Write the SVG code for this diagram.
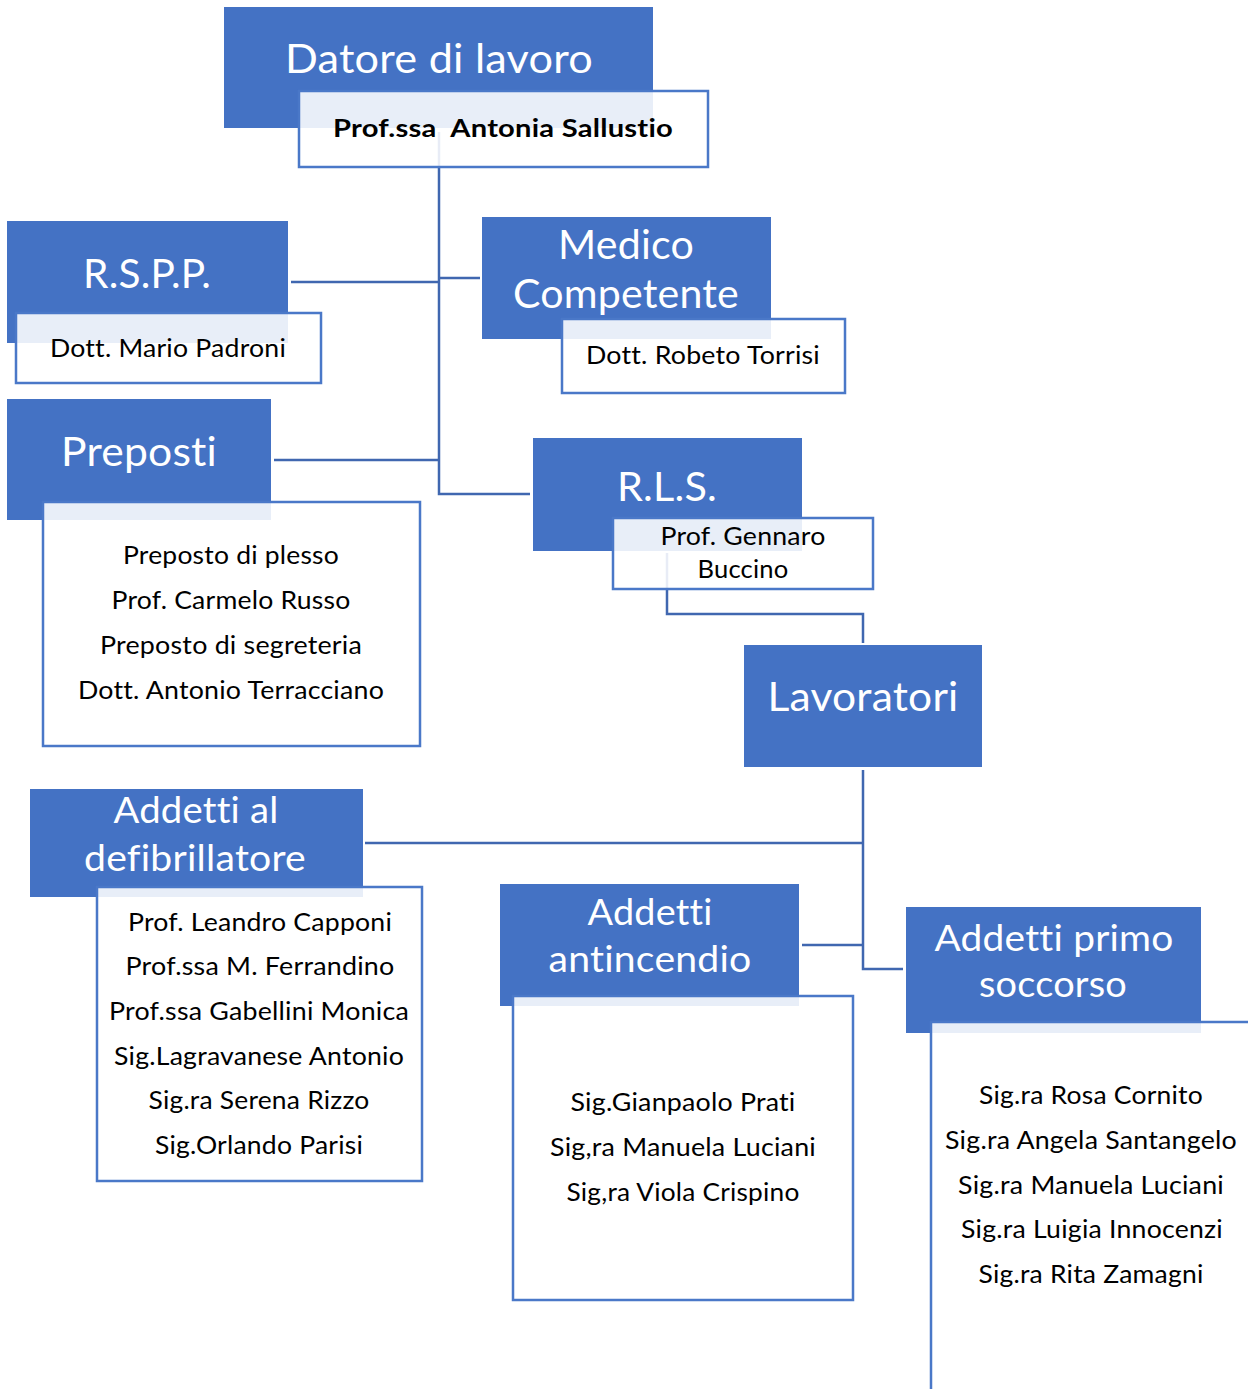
<svg xmlns="http://www.w3.org/2000/svg" width="1248" height="1389" viewBox="0 0 1248 1389">
<style>
.bg{fill:#ffffff}
.blue{fill:#4472C4}
.card{fill:#ffffff;fill-opacity:0.88;stroke:#4A78C8;stroke-width:2.5}
.conn{fill:none;stroke:#4067B0;stroke-width:2.5}
text{font-variant-ligatures:none;font-feature-settings:"liga" 0,"clig" 0,"dlig" 0;letter-spacing:0.2px}
.t{font-family:Lato,"Open Sans","Liberation Sans",sans-serif;fill:#ffffff;text-anchor:middle}
.big{font-size:40px}
.mid{font-size:36px}
.s{font-family:Lato,"Open Sans","Liberation Sans",sans-serif;fill:#000000;text-anchor:middle;font-size:25px}
.b{font-weight:bold}
</style>
<rect class="bg" x="0" y="0" width="1248" height="1389"/>
<g id="connectors">
<polyline class="conn" points="439,132 439,494 530,494"/>
<line class="conn" x1="291" y1="282" x2="439" y2="282"/>
<line class="conn" x1="439" y1="278" x2="480" y2="278"/>
<line class="conn" x1="274" y1="460" x2="439" y2="460"/>
<polyline class="conn" points="667,553 667,614 863,614 863,643"/>
<polyline class="conn" points="863,770 863,969 903,969"/>
<line class="conn" x1="365" y1="843" x2="863" y2="843"/>
<line class="conn" x1="802" y1="945" x2="863" y2="945"/>
</g>
<g id="datore">
<rect class="blue" x="224" y="7" width="429" height="121"/>
<text class="t big" x="439" y="73" textLength="308" lengthAdjust="spacingAndGlyphs">Datore di lavoro</text>
<rect class="card" x="299" y="91" width="409" height="76"/>
<text class="s b" x="503" y="137" textLength="340" lengthAdjust="spacingAndGlyphs" xml:space="preserve">Prof.ssa  Antonia Sallustio</text>
</g>
<g id="rspp">
<rect class="blue" x="7" y="221" width="281" height="122"/>
<text class="t big" x="147" y="288" textLength="128" lengthAdjust="spacingAndGlyphs">R.S.P.P.</text>
<rect class="card" x="16" y="313" width="305" height="70"/>
<text class="s" x="168" y="357" textLength="236" lengthAdjust="spacingAndGlyphs">Dott. Mario Padroni</text>
</g>
<g id="medico">
<rect class="blue" x="482" y="217" width="289" height="122"/>
<text class="t big" x="626" y="259" textLength="136" lengthAdjust="spacingAndGlyphs">Medico</text>
<text class="t big" x="626" y="308" textLength="226" lengthAdjust="spacingAndGlyphs">Competente</text>
<rect class="card" x="562" y="319" width="283" height="74"/>
<text class="s" x="703" y="364" textLength="234" lengthAdjust="spacingAndGlyphs">Dott. Robeto Torrisi</text>
</g>
<g id="preposti">
<rect class="blue" x="7" y="399" width="264" height="121"/>
<text class="t big" x="139" y="466" textLength="156" lengthAdjust="spacingAndGlyphs">Preposti</text>
<rect class="card" x="43" y="502" width="377" height="244"/>
<text class="s" x="231" y="564" textLength="216" lengthAdjust="spacingAndGlyphs">Preposto di plesso</text>
<text class="s" x="231" y="609" textLength="239" lengthAdjust="spacingAndGlyphs">Prof. Carmelo Russo</text>
<text class="s" x="231" y="654" textLength="262" lengthAdjust="spacingAndGlyphs">Preposto di segreteria</text>
<text class="s" x="231" y="699" textLength="306" lengthAdjust="spacingAndGlyphs">Dott. Antonio Terracciano</text>
</g>
<g id="rls">
<rect class="blue" x="533" y="438" width="269" height="113"/>
<text class="t big" x="667" y="501" textLength="100" lengthAdjust="spacingAndGlyphs">R.L.S.</text>
<rect class="card" x="613" y="518" width="260" height="71"/>
<text class="s" x="743" y="545" textLength="165" lengthAdjust="spacingAndGlyphs">Prof. Gennaro</text>
<text class="s" x="743" y="578" textLength="91" lengthAdjust="spacingAndGlyphs">Buccino</text>
</g>
<g id="lavoratori">
<rect class="blue" x="744" y="645" width="238" height="122"/>
<text class="t big" x="863" y="711" textLength="191" lengthAdjust="spacingAndGlyphs">Lavoratori</text>
</g>
<g id="defibrillatore">
<rect class="blue" x="30" y="789" width="333" height="108"/>
<text class="t mid" x="196" y="823" textLength="165" lengthAdjust="spacingAndGlyphs">Addetti al</text>
<text class="t mid" x="195" y="871" textLength="222" lengthAdjust="spacingAndGlyphs">defibrillatore</text>
<rect class="card" x="97" y="887" width="325" height="294"/>
<text class="s" x="260" y="931" textLength="264" lengthAdjust="spacingAndGlyphs">Prof. Leandro Capponi</text>
<text class="s" x="260" y="975" textLength="269" lengthAdjust="spacingAndGlyphs">Prof.ssa M. Ferrandino</text>
<text class="s" x="259" y="1020" textLength="300" lengthAdjust="spacingAndGlyphs">Prof.ssa Gabellini Monica</text>
<text class="s" x="259" y="1065" textLength="290" lengthAdjust="spacingAndGlyphs">Sig.Lagravanese Antonio</text>
<text class="s" x="259" y="1109" textLength="221" lengthAdjust="spacingAndGlyphs">Sig.ra Serena Rizzo</text>
<text class="s" x="259" y="1154" textLength="208" lengthAdjust="spacingAndGlyphs">Sig.Orlando Parisi</text>
</g>
<g id="antincendio">
<rect class="blue" x="500" y="884" width="299" height="122"/>
<text class="t mid" x="650" y="925" textLength="125" lengthAdjust="spacingAndGlyphs">Addetti</text>
<text class="t mid" x="650" y="972" textLength="203" lengthAdjust="spacingAndGlyphs">antincendio</text>
<rect class="card" x="513" y="996" width="340" height="304"/>
<text class="s" x="683" y="1111" textLength="225" lengthAdjust="spacingAndGlyphs">Sig.Gianpaolo Prati</text>
<text class="s" x="683" y="1156" textLength="266" lengthAdjust="spacingAndGlyphs">Sig,ra Manuela Luciani</text>
<text class="s" x="683" y="1201" textLength="233" lengthAdjust="spacingAndGlyphs">Sig,ra Viola Crispino</text>
</g>
<g id="primo-soccorso">
<rect class="blue" x="906" y="907" width="295" height="126"/>
<text class="t mid" x="1054" y="951" textLength="239" lengthAdjust="spacingAndGlyphs">Addetti primo</text>
<text class="t mid" x="1053" y="997" textLength="148" lengthAdjust="spacingAndGlyphs">soccorso</text>
<rect class="card" x="931" y="1022" width="340" height="390"/>
<text class="s" x="1091" y="1104" textLength="224" lengthAdjust="spacingAndGlyphs">Sig.ra Rosa Cornito</text>
<text class="s" x="1091" y="1149" textLength="292" lengthAdjust="spacingAndGlyphs">Sig.ra Angela Santangelo</text>
<text class="s" x="1091" y="1194" textLength="266" lengthAdjust="spacingAndGlyphs">Sig.ra Manuela Luciani</text>
<text class="s" x="1092" y="1238" textLength="262" lengthAdjust="spacingAndGlyphs">Sig.ra Luigia Innocenzi</text>
<text class="s" x="1091" y="1283" textLength="225" lengthAdjust="spacingAndGlyphs">Sig.ra Rita Zamagni</text>
</g>
</svg>
